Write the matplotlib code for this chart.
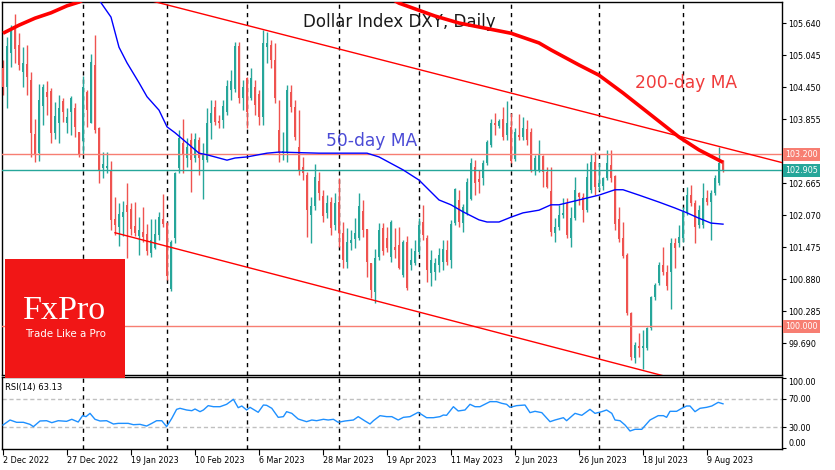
import numpy as np
import matplotlib
matplotlib.use('Agg')
from matplotlib import pyplot as plt
from matplotlib.patches import Rectangle
from matplotlib.transforms import Bbox
import matplotlib.transforms as mtransforms

# Daily DXY candles, 2 Dec 2022 .. 15 Aug 2023 (bar index 0..180)
opens = [104.80, 104.45, 105.08, 105.55, 105.23, 104.73, 104.88, 104.58, 103.58, 103.23,
         104.10, 104.35, 104.37, 103.59, 103.78, 104.19, 103.78, 103.99, 104.06, 103.61,
         103.45, 104.35, 103.78, 104.86, 103.69, 102.94, 102.94, 102.89, 102.00, 101.85,
         102.03, 102.26, 102.18, 101.87, 101.68, 101.76, 101.72, 101.36, 101.46, 101.70,
         101.99, 101.92, 100.70, 101.64, 102.94, 103.41, 103.13, 103.47, 103.13, 103.47,
         103.09, 103.09, 103.78, 104.08, 103.82, 103.84, 103.99, 104.39, 104.41, 105.21,
         104.24, 104.62, 104.24, 104.45, 104.32, 103.89, 105.19, 105.23, 104.95, 103.65,
         103.23, 103.23, 104.35, 104.08, 103.34, 102.96, 102.81, 102.07, 102.24, 102.70,
         102.42, 102.11, 102.31, 101.89, 102.31, 101.74, 101.20, 101.55, 101.62, 101.64,
         102.14, 101.81, 101.18, 100.64, 101.29, 101.83, 101.64, 101.29, 101.48, 101.51,
         100.96, 101.57, 101.14, 101.18, 101.38, 101.94, 101.64, 100.99, 101.01, 101.14,
         101.20, 101.42, 101.23, 101.92, 102.35, 101.92, 102.11, 102.37, 102.96, 102.74,
         102.76, 103.04, 103.37, 103.78, 103.73, 103.85, 103.56, 103.71, 103.11, 103.56,
         103.52, 103.67, 103.61, 102.91, 102.91, 103.17, 102.87, 102.51, 101.74, 101.85,
         102.07, 102.29, 101.64, 102.01, 102.48, 102.40, 102.16, 102.53, 103.05, 102.59,
         102.61, 102.76, 103.00, 102.79, 102.00, 101.64, 101.33, 100.25, 99.41, 99.63,
         99.60, 99.60, 99.97, 100.55, 100.80, 101.14, 101.01, 101.01, 101.55, 101.55,
         101.64, 102.12, 102.44, 102.29, 101.89, 101.89, 102.38, 102.31, 102.48, 102.67,
         103.04]
highs = [104.95, 105.38, 105.61, 105.81, 105.45, 105.19, 105.23, 104.73, 103.85, 104.51,
         104.51, 104.56, 104.43, 104.17, 104.30, 104.24, 104.06, 104.28, 104.15, 103.61,
         104.65, 104.39, 105.07, 105.42, 103.71, 103.24, 103.24, 103.07, 102.40, 102.29,
         102.33, 102.67, 102.29, 102.31, 102.03, 102.22, 101.90, 101.99, 101.99, 102.12,
         102.46, 101.94, 101.60, 102.87, 103.65, 103.85, 103.50, 103.60, 103.60, 103.52,
         103.41, 104.06, 104.21, 104.21, 103.93, 104.21, 104.58, 104.77, 105.29, 105.29,
         104.58, 104.64, 104.80, 104.58, 104.39, 105.51, 105.47, 105.32, 105.27, 104.21,
         103.61, 104.49, 104.49, 104.21, 104.02, 103.15, 102.87, 102.40, 103.02, 102.87,
         102.53, 102.44, 102.40, 102.48, 102.76, 101.94, 101.83, 101.79, 102.01, 102.48,
         102.35, 101.81, 101.18, 101.44, 101.92, 101.92, 101.85, 101.98, 101.83, 101.85,
         101.61, 101.68, 101.46, 101.61, 102.01, 102.26, 101.70, 101.42, 101.27, 101.46,
         101.61, 101.61, 101.98, 102.57, 102.53, 102.27, 102.76, 103.13, 103.09, 102.91,
         103.09, 103.47, 103.85, 103.97, 103.85, 104.08, 104.19, 103.97, 103.69, 103.95,
         103.89, 103.84, 103.69, 103.19, 103.47, 103.19, 102.96, 102.96, 102.01, 102.26,
         102.38, 102.38, 102.22, 102.78, 102.50, 102.48, 103.04, 103.21, 103.24, 103.04,
         102.78, 103.28, 103.28, 102.81, 102.22, 101.94, 101.36, 100.27, 99.71, 99.87,
         99.93, 99.99, 100.56, 100.80, 101.20, 101.47, 101.14, 101.64, 101.64, 101.88,
         102.22, 102.59, 102.63, 102.35, 102.26, 102.66, 102.53, 102.53, 102.81, 103.33,
         103.09]
lows = [104.30, 104.06, 104.82, 104.89, 104.77, 104.45, 104.30, 103.15, 103.05, 103.07,
        103.75, 103.93, 103.41, 103.48, 103.41, 103.80, 103.59, 103.56, 103.52, 103.15,
        103.21, 103.71, 103.78, 103.59, 102.67, 102.76, 102.85, 101.79, 101.70, 101.49,
        101.68, 101.27, 101.70, 101.68, 101.33, 101.57, 101.33, 101.29, 101.44, 101.61,
        101.85, 100.86, 100.65, 101.55, 102.85, 102.85, 102.96, 102.50, 103.05, 102.81,
        102.37, 103.05, 103.48, 103.75, 103.69, 103.69, 103.93, 104.21, 104.35, 104.15,
        104.02, 103.69, 104.21, 103.93, 103.75, 103.75, 104.89, 104.80, 104.15, 103.05,
        103.09, 103.05, 103.99, 103.47, 102.81, 102.72, 101.66, 101.55, 102.16, 102.35,
        101.94, 102.01, 101.70, 101.79, 101.48, 101.09, 101.09, 101.42, 101.46, 101.61,
        101.66, 100.92, 100.53, 100.43, 101.23, 101.33, 101.38, 101.20, 101.27, 101.07,
        100.92, 100.68, 101.05, 101.14, 101.34, 101.61, 100.82, 100.75, 100.86, 101.01,
        101.05, 101.14, 101.09, 101.88, 101.85, 101.75, 102.07, 102.35, 102.44, 102.48,
        102.63, 103.00, 103.34, 103.56, 103.69, 103.47, 103.47, 103.04, 103.07, 103.47,
        103.47, 103.37, 102.87, 102.81, 102.87, 102.59, 102.57, 101.68, 101.57, 101.79,
        102.01, 101.64, 101.48, 101.98, 102.26, 101.94, 102.12, 102.48, 102.44, 102.53,
        102.53, 102.72, 102.68, 101.79, 101.57, 101.27, 100.21, 99.37, 99.32, 99.43,
        99.21, 99.56, 99.93, 100.49, 100.77, 100.95, 100.68, 100.32, 101.09, 101.48,
        101.57, 102.07, 102.24, 101.55, 101.83, 101.83, 102.26, 101.61, 102.44, 102.63,
        102.87]
closes = [104.45, 105.21, 105.51, 105.15, 104.86, 104.89, 104.64, 103.59, 103.21, 104.21,
          104.45, 104.26, 103.59, 103.91, 104.06, 103.99, 103.89, 104.24, 103.71, 103.21,
          104.45, 104.02, 104.91, 103.65, 102.91, 103.02, 102.98, 101.98, 101.89, 102.09,
          102.12, 102.12, 101.81, 101.74, 101.79, 101.66, 101.40, 101.61, 101.72, 102.03,
          101.90, 100.94, 101.57, 102.85, 103.50, 103.19, 103.34, 103.09, 103.48, 103.13,
          103.19, 103.78, 103.97, 103.80, 103.78, 104.10, 104.47, 104.56, 105.21, 104.24,
          104.45, 103.99, 104.62, 104.12, 103.89, 105.27, 105.27, 104.95, 104.24, 103.23,
          103.26, 104.39, 104.08, 103.52, 102.91, 102.85, 102.16, 102.24, 102.78, 102.48,
          102.05, 102.29, 101.83, 102.29, 101.74, 101.23, 101.57, 101.61, 101.74, 102.24,
          101.79, 101.20, 100.68, 101.27, 101.79, 101.40, 101.46, 101.94, 101.42, 101.09,
          101.57, 100.71, 101.23, 101.40, 101.89, 101.70, 101.05, 101.23, 101.18, 101.33,
          101.44, 101.20, 101.90, 102.55, 101.94, 102.22, 102.68, 103.04, 102.67, 102.68,
          103.04, 103.43, 103.78, 103.75, 103.82, 103.52, 103.78, 103.07, 103.61, 103.52,
          103.69, 103.47, 102.91, 103.13, 103.19, 102.87, 102.59, 101.76, 101.85, 102.07,
          102.11, 101.70, 102.01, 102.53, 102.40, 102.16, 102.78, 103.05, 102.59, 102.67,
          102.76, 103.04, 102.76, 101.90, 101.62, 101.31, 100.25, 99.43, 99.65, 99.60,
          99.63, 99.97, 100.55, 100.77, 101.14, 101.01, 100.75, 101.55, 101.46, 101.66,
          102.12, 102.44, 102.29, 101.85, 102.16, 102.38, 102.31, 102.48, 102.76, 103.04,
          102.905]

# moving averages (bar index, value); values above 106 are off-chart
ma200_idx = [0, 4, 8, 12, 16, 19, 30, 50, 70, 90, 99, 108, 114, 127, 134, 137, 144, 149, 155, 162, 169, 174, 180]
ma200_val = [105.45, 105.60, 105.73, 105.83, 105.96, 106.03, 106.45, 106.75, 106.75, 106.40, 106.01, 105.77,
             105.64, 105.45, 105.27, 105.14, 104.86, 104.67, 104.34, 103.93, 103.52, 103.28, 103.05]
ma50_idx = [0, 12, 24, 27, 29, 31, 34, 36, 39, 41, 43, 46, 49, 51, 56, 58, 61, 66, 69, 79, 84, 91, 94,
            100, 104, 109, 112, 115, 119, 121, 124, 127, 130, 134, 137, 139, 144, 149, 153, 155, 159,
            164, 168, 171, 174, 177, 180]
ma50_val = [107.6, 106.8, 106.07, 105.75, 105.19, 104.90, 104.53, 104.27, 104.02, 103.71, 103.60, 103.41,
            103.22, 103.19, 103.09, 103.13, 103.15, 103.22, 103.24, 103.22, 103.22, 103.22, 103.15,
            102.91, 102.72, 102.35, 102.26, 102.13, 101.98, 101.94, 101.94, 102.03, 102.11, 102.16,
            102.26, 102.26, 102.35, 102.44, 102.54, 102.54, 102.44, 102.31, 102.20, 102.11, 102.01,
            101.92, 101.90]

# channel trend lines (two anchor points each)
upper_line = [(0, 106.76), (195, 103.04)]
lower_line = [(28, 101.74), (195, 98.50)]

# horizontal levels
level_lines = [103.200, 100.000]
last_price = 102.905

# RSI(14)
rsi_idx = [0, 1.75, 3.4, 5.1, 6.75, 7.6, 9.25, 10.9, 12.2, 13.8, 15.9, 17.2, 18.8, 19.9, 20.75, 21.75,
           23, 24.25, 25.9, 27.6, 28.8, 31.3, 32.6, 34.25, 35.9, 37.2, 38.4, 39.7, 40.9, 42.2, 43.4,
           44.25, 45.9, 47.2, 48, 49.25, 50.1, 51.3, 52.6, 54.25, 55.9, 57.6, 58.8, 59.7, 60.9, 61.75,
           63.8, 65.1, 65.9, 67.2, 68.8, 70.1, 70.9, 72.2, 73.8, 75.9, 77.2, 78.4, 80.1, 81.3, 82.6,
           83.8, 85.5, 87.6, 88.8, 90.5, 91.75, 92.6, 94.25, 95.9, 97.2, 98.8, 100.1, 101.75, 103.8,
           105.9, 107.6, 109.25, 110.1, 110.9, 112.6, 113.8, 115.5, 116.75, 118, 119.25, 121.75,
           123.4, 124.7, 125.9, 126.75, 128.4, 130.5, 131.75, 133, 134.7, 136.75, 138, 140.1, 140.9,
           143, 144.7, 146.75, 148, 149.7, 150.9, 152.2, 153, 154.25, 155.5, 156.75, 158, 159.7,
           161.75, 163.8, 165.1, 165.9, 166.75, 168.4, 169.7, 170.9, 171.75, 173, 174.25, 175.9,
           177.2, 178.8, 180]
rsi_val = [32.9, 40.0, 36.7, 36.7, 33.8, 30.5, 38.6, 39.0, 36.2, 39.0, 38.1, 41.0, 37.1, 46.2, 44.8, 49.5,
           41.0, 38.6, 39.0, 34.3, 35.2, 35.2, 33.3, 33.8, 31.4, 35.2, 39.0, 39.0, 30.5, 42.4, 55.2,
           56.7, 54.3, 53.3, 55.7, 51.9, 54.3, 60.5, 59.0, 59.0, 62.4, 69.5, 57.6, 60.0, 54.3, 58.1,
           51.0, 61.4, 61.0, 56.7, 43.8, 44.8, 51.9, 49.5, 41.4, 37.6, 40.0, 39.0, 41.0, 40.0, 41.0,
           36.7, 38.6, 40.0, 44.8, 38.6, 34.3, 39.0, 46.2, 44.8, 44.8, 40.0, 43.8, 44.8, 51.0,
           43.3, 43.3, 44.8, 47.1, 46.7, 59.0, 52.9, 54.3, 62.4, 59.0, 59.0, 66.2,
           66.2, 63.8, 62.4, 58.1, 60.5, 61.4, 50.5, 52.4, 50.5, 37.6, 40.0, 43.3, 39.0,
           49.5, 46.7, 55.2, 49.5, 51.9, 54.3, 49.5, 40.0, 39.0, 32.9, 24.3, 26.7, 26.7,
           40.0, 46.2, 46.2, 43.8, 52.4, 52.4, 56.7, 60.0, 60.0, 51.9, 56.7, 58.1,
           60.0, 65.2, 63.13]

# x axis labels
date_idx = [0, 16, 32, 48, 64, 80, 96, 112, 128, 144, 160, 176]
date_labels = ['2 Dec 2022', '27 Dec 2022', '19 Jan 2023', '10 Feb 2023', '6 Mar 2023', '28 Mar 2023',
               '19 Apr 2023', '11 May 2023', '2 Jun 2023', '26 Jun 2023', '18 Jul 2023', '9 Aug 2023']
month_start_idx = [20, 41, 61, 84, 104, 127, 149, 170]
price_ticks = [105.640, 105.045, 104.450, 103.855, 103.260, 102.665, 102.070, 101.475, 100.880, 100.285, 99.690]

up_color = '#26a69a'
down_color = '#ef5350'
level_color = '#f77e72'

W, H = 835, 470
fig = plt.figure(figsize=(W / 100, H / 100), dpi=100)
ax = fig.add_axes([2 / W, 1 - 375 / H, 780 / W, 373 / H])
ax2 = fig.add_axes([2 / W, 1 - 449 / H, 780 / W, 72 / H])

x = np.arange(len(closes))
o = np.array(opens)
c = np.array(closes)
up = c >= o
colors = np.where(up, up_color, down_color)

# month separators
for m in month_start_idx:
    ax.axvline(m, color='black', lw=1, ls=(0, (3, 3)), zorder=1)
    ax2.axvline(m, color='black', lw=1, ls=(0, (3, 3)), zorder=1)

# candles
ax.vlines(x, lows, highs, colors=colors, lw=1, zorder=2)
body = np.maximum(np.abs(c - o), 0.012)
ax.bar(x, body, bottom=np.minimum(o, c), width=0.74, color=colors, zorder=3)

# levels
for lv in level_lines:
    ax.axhline(lv, color=level_color, lw=1, zorder=4)
ax.axhline(last_price, color=up_color, lw=1, zorder=4)

# trend lines and MAs
ax.plot([p[0] for p in upper_line], [p[1] for p in upper_line], color='red', lw=1, zorder=5)
ax.plot([p[0] for p in lower_line], [p[1] for p in lower_line], color='red', lw=1, zorder=5)
ax.plot(ma200_idx, ma200_val, color='red', lw=2.6, zorder=6, solid_capstyle='butt')
ax.plot(ma50_idx, ma50_val, color='blue', lw=1, zorder=6)

ax.set_xlim(-0.25, 194.75)
ax.set_ylim(99.095, 106.031)
ax.set_xticks([])
ax.yaxis.tick_right()
ax.set_yticks(price_ticks)
ax.set_yticklabels(['%.3f' % v for v in price_ticks])
ax.tick_params(axis='y', direction='out', length=3, width=0.8, labelsize=5.8, pad=1.5)
for s in ax.spines.values():
    s.set_linewidth(1)

# the 103.260 scale label sits under the 103.200 marker, only its top shows
for lab, v in zip(ax.get_yticklabels(), price_ticks):
    if abs(v - 103.260) < 1e-6:
        lab.set_clip_on(True)
        lab.set_clip_box(Bbox.from_extents(783, 470 - 148.5, 835, 470))

ax.text(0.510, 0.946, 'Dollar Index DXY, Daily', transform=ax.transAxes, ha='center', va='center',
        fontsize=12, color='#1a1a1a')
ax.text(0.474, 0.627, '50-day MA', transform=ax.transAxes, ha='center', va='center',
        fontsize=12.3, color='#4b4bd6')
ax.text(0.877, 0.783, '200-day MA', transform=ax.transAxes, ha='center', va='center',
        fontsize=12.3, color='#f03c3c')

# boxed price labels on the right scale
trans = mtransforms.blended_transform_factory(ax.transAxes, ax.transData)
for lv, col in [(103.200, level_color), (last_price, up_color), (100.000, level_color)]:
    ax.text(1.0045, lv, '%.3f' % lv, transform=trans, ha='left', va='center', fontsize=5.8,
            color='white', clip_on=False, zorder=10,
            bbox=dict(boxstyle='square,pad=0.25', facecolor=col, edgecolor='none'))

# RSI panel
ax2.axhline(70, color='#c0c0c0', lw=1, ls=(0, (3, 2)), zorder=1)
ax2.axhline(30, color='#c0c0c0', lw=1, ls=(0, (3, 2)), zorder=1)
ax2.plot(rsi_idx, rsi_val, color='#1e90ff', lw=1, zorder=3)
ax2.set_xlim(-0.25, 194.75)
ax2.set_ylim(-1.4, 101.4)
ax2.yaxis.tick_right()
ax2.set_yticks([100, 70, 30, 0])
ax2.set_yticklabels(['100.00', '70.00', '30.00', '0.00'])
ax2.tick_params(axis='y', direction='out', length=3, width=0.8, labelsize=5.8, pad=1.5)
ax2.set_xticks(date_idx)
ax2.set_xticklabels(date_labels)
ax2.tick_params(axis='x', direction='out', length=4, width=0.8, labelsize=5.8, pad=1)
for lab in ax2.get_xticklabels():
    lab.set_ha('left')
ylabs = ax2.get_yticklabels()
ylabs[0].set_va('top')
ylabs[-1].set_va('bottom')
for s in ax2.spines.values():
    s.set_linewidth(1)
ax2.text(0.004, 0.86, 'RSI(14) 63.13', transform=ax2.transAxes, ha='left', va='center', fontsize=6)

# FxPro logo
fig.add_artist(Rectangle((5 / W, 1 - 378 / H), 120 / W, 119 / H, transform=fig.transFigure,
                         facecolor='#f11616', edgecolor='none', zorder=20))
fig.text(65 / W, 1 - 311 / H, 'FxPro', ha='center', va='center', fontsize=24.5, color='white',
         family='Liberation Serif', zorder=21)
fig.text(65 / W, 1 - 334 / H, 'Trade Like a Pro', ha='center', va='center', fontsize=7.4,
         color='white', zorder=21)

fig.savefig('out.png', dpi=100)
